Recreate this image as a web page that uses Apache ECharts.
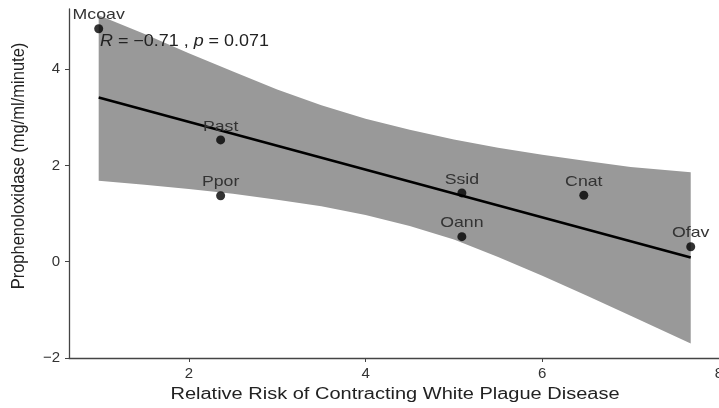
<!DOCTYPE html>
<html>
<head>
<meta charset="utf-8">
<script src="https://cdn.jsdelivr.net/npm/echarts@6/dist/echarts.min.js"></script>
<style>html,body{margin:0;padding:0;background:#fff;}#chart{width:719px;height:408px;}</style>
</head>
<body>
<div id="chart"></div>
<script>
const species = ['Mcoav', 'Past', 'Ppor', 'Ssid', 'Oann', 'Cnat', 'Ofav'];
const riskValues = [0.98, 2.36, 2.36, 5.09, 5.09, 6.47, 7.68];
const poValues = [4.84, 2.53, 1.37, 1.43, 0.52, 1.38, 0.31];

const fitX = [0.98, 7.68];
const fitY = [3.41, 0.09];

const bandX = [0.98, 1.5, 2, 2.5, 3, 3.5, 4, 4.5, 5, 5.5, 6, 6.5, 7, 7.68];
const bandUpper = [5.12, 4.73, 4.33, 3.95, 3.58, 3.25, 2.97, 2.74, 2.54, 2.37, 2.22, 2.09, 1.97, 1.86];
const bandLower = [1.68, 1.60, 1.51, 1.41, 1.29, 1.15, 0.97, 0.74, 0.46, 0.10, -0.29, -0.70, -1.12, -1.70];

const xTicks = [2, 4, 6, 8];
const yTicks = [-2, 0, 2, 4];

const xTitle = 'Relative Risk of Contracting White Plague Disease';
const yTitle = 'Prophenoloxidase (mg/ml/minute)';

const FONT = '"Liberation Sans", Arial, sans-serif';
const chart = echarts.init(document.getElementById('chart'), null, {renderer: 'canvas'});

const bandPoly = bandX.map((x, i) => [x, bandUpper[i]])
  .concat(bandX.map((x, i) => [x, bandLower[i]]).reverse());

chart.setOption({
  animation: false,
  backgroundColor: '#ffffff',
  grid: {left: 69, right: 0, top: 9, bottom: 50, containLabel: false, outerBoundsMode: 'none'},
  xAxis: {
    type: 'value', min: 0.644, max: 8.0,
    axisLine: {show: true, onZero: false, lineStyle: {color: '#444', width: 1.3}},
    axisTick: {show: true, length: 4, customValues: xTicks, lineStyle: {color: '#444'}},
    axisLabel: {customValues: xTicks, fontFamily: FONT, fontSize: 15, color: '#333', margin: 8},
    splitLine: {show: false}
  },
  yAxis: {
    type: 'value', min: -2, max: 5.25,
    axisLine: {show: true, onZero: false, lineStyle: {color: '#444', width: 1.3}},
    axisTick: {show: true, length: 4, customValues: yTicks, lineStyle: {color: '#444'}},
    axisLabel: {customValues: yTicks, fontFamily: FONT, fontSize: 15, color: '#333', margin: 9,
      formatter: v => (v < 0 ? '\u2212' + Math.abs(v) : String(v))},
    splitLine: {show: false}
  },
  series: [
    {
      type: 'custom',
      renderItem: function (params, api) {
        const pts = bandPoly.map(p => api.coord(p));
        return {type: 'polygon', shape: {points: pts}, style: {fill: '#999999'}};
      },
      data: [0],
      silent: true,
      z: 1
    },
    {
      type: 'line',
      data: fitX.map((x, i) => [x, fitY[i]]),
      symbol: 'none',
      lineStyle: {color: '#000', width: 2.6},
      z: 2
    },
    {
      type: 'scatter',
      data: riskValues.map((x, i) => [x, poValues[i]]),
      symbolSize: 9,
      itemStyle: {color: '#000'},
      z: 3
    },
    {
      type: 'custom',
      data: riskValues.map((x, i) => [x, poValues[i], i]),
      renderItem: function (params, api) {
        const p = api.coord([api.value(0), api.value(1)]);
        return {
          type: 'text',
          x: p[0], y: p[1] - 13.5,
          scaleX: 1.18,
          style: {
            text: species[api.value(2)],
            align: 'center', verticalAlign: 'middle',
            font: '15px ' + FONT, fill: '#333'
          }
        };
      },
      silent: true,
      z: 4
    }
  ],
  graphic: [
    {
      type: 'text',
      x: 100, y: 42,
      scaleX: 1.12,
      style: {
        rich: {
          n: {fontFamily: FONT, fontSize: 16, fill: '#222'},
          i: {fontFamily: FONT, fontSize: 16, fontStyle: 'italic', fill: '#222'}
        },
        text: '{i|R}{n| = \u22120.71 , }{i|p}{n| = 0.071}',
        verticalAlign: 'middle'
      },
      z: 10
    },
    {
      type: 'text',
      x: 395, y: 395,
      scaleX: 1.25,
      style: {
        text: xTitle,
        align: 'center', verticalAlign: 'middle',
        font: '16px ' + FONT, fill: '#222'
      },
      z: 10
    },
    {
      type: 'text',
      x: 19, y: 166,
      rotation: Math.PI / 2,
      scaleY: 1.15,
      style: {
        text: yTitle,
        align: 'center', verticalAlign: 'middle',
        font: '16.5px ' + FONT, fill: '#222'
      },
      z: 10
    }
  ]
});
</script>
</body>
</html>
